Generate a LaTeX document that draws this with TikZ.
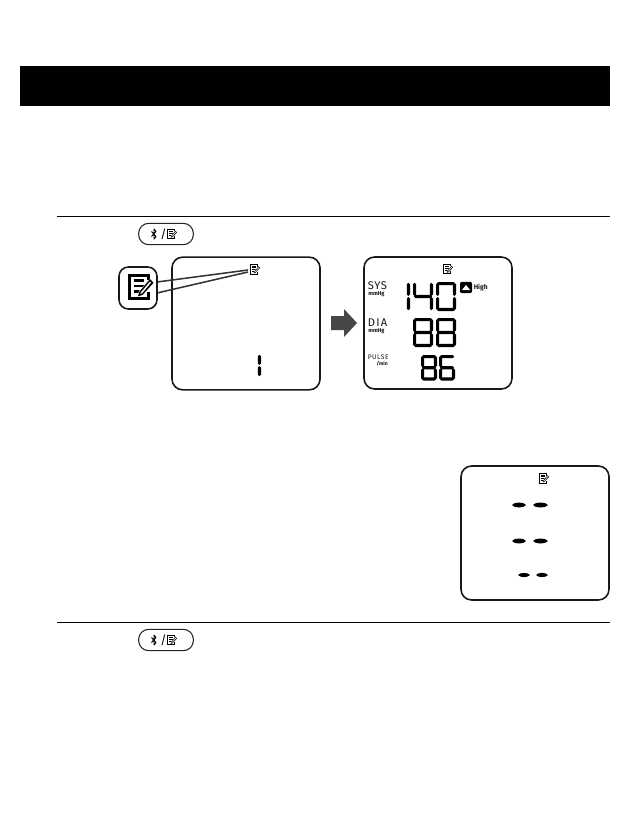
\documentclass[tikz,border=0pt]{standalone}
\usepackage{fontspec}
\usetikzlibrary{calc}
\setmainfont{Fira Sans}
\tikzset{
  x=0.75pt,y=-0.75pt,
  panel/.style={draw=black!90,line width=1.2pt,rounded corners=8pt,fill=white,inner sep=0pt},
  rulerline/.style={draw=black,line width=0.75pt},
  keycap/.style={draw=black!85,line width=0.8pt,fill=white,rounded corners=7.5pt,inner sep=0pt,minimum width=41pt,minimum height=16pt},
  callout/.style={draw=black!80,line width=1.15pt},
  lab/.style={inner sep=0pt,anchor=west,text=black!90},
}
\def\st{1.6}
\newcommand\hs[3]{\fill (#1,#3) -- ++(\st,-\st) -- (#2-\st,#3-\st) -- (#2,#3) -- (#2-\st,#3+\st) -- (#1+\st,#3+\st) -- cycle;}
\newcommand\vs[3]{\fill (#1,#2) -- ++(\st,\st) -- (#1+\st,#3-\st) -- (#1,#3) -- (#1-\st,#3-\st) -- (#1-\st,#2+\st) -- cycle;}
\newcommand\sga[2]{\hs{0.8}{#1-0.8}{\st}}
\newcommand\sgg[2]{\hs{0.8}{#1-0.8}{#2/2}}
\newcommand\sgd[2]{\hs{0.8}{#1-0.8}{#2-\st}}
\newcommand\sgf[2]{\vs{\st}{0.8}{#2/2-0.5}}
\newcommand\sge[2]{\vs{\st}{#2/2+0.5}{#2-0.8}}
\newcommand\sgb[2]{\vs{#1-\st}{0.8}{#2/2-0.5}}
\newcommand\sgc[2]{\vs{#1-\st}{#2/2+0.5}{#2-0.8}}
% x, y, width, height, segments
\newcommand\segdigit[5]{\begin{scope}[shift={(#1,#2)}]\foreach \sgname in {#5}{\csname sg\sgname\endcsname{#3}{#4}}\end{scope}}
% notepad icon: centre x, centre y, scale (1 = 24 px wide)
\newcommand\noteicon[3]{\begin{scope}[shift={(#1,#2)},scale=#3]
  \draw[line width=#3*1.9pt,fill=white] (7,-7) -- (7,-11) -- (-11,-11) -- (-11,11) -- (7,11) -- (7,5);
  \draw[line width=#3*1.9pt] (-7,-6) -- (3,-6) (-7,-1) -- (3,-1) (-7,4) -- (0,4);
  \fill[white] (-3,9) -- (-2,4) -- (9,-8) -- (13,-4) -- (2,8) -- cycle;
  \fill (-3,9) -- (-1.5,4.5) -- (8.5,-7.5) -- (12,-4) -- (1.5,7.5) -- cycle;
  \fill[white] (-0.8,6.6) -- (0,5) -- (8.5,-5.2) -- (9.5,-4.2) -- (1,6) -- cycle;
\end{scope}}
\newcommand\keylabel[2]{%
  \draw[line width=0.7pt,line join=round] (#1-5.5,#2-2.5) -- (#1-1,#2+2.5) -- (#1-3,#2+5) -- (#1-3,#2-5) -- (#1-1,#2-2.5) -- (#1-5.5,#2+2.5);
  \noteicon{#1+15}{#2}{0.42}
}
\begin{document}
\begin{tikzpicture}
\useasboundingbox (0,0) rectangle (630,824);
\fill[white] (0,0) rectangle (630,824);
% header bar
\node[fill=black,inner sep=0pt,minimum width=442.5pt,minimum height=30pt] (bar) at (315,86) {};
% rules
\coordinate (r1a) at (57,216); \coordinate (r1b) at (610,216);
\coordinate (r2a) at (57,622); \coordinate (r2b) at (610,622);
\draw[rulerline] (r1a) -- (r1b);
\draw[rulerline] (r2a) -- (r2b);
% keys
\node[keycap] (key1) at (166,234) {};
\keylabel{157}{234}
\node[inner sep=0pt,font=\fontsize{9}{9}\selectfont] (slash1) at (163.5,234) {/};
\node[keycap] (key2) at (166,640) {};
\keylabel{157}{640}
\node[inner sep=0pt,font=\fontsize{9}{9}\selectfont] (slash2) at (163.5,640) {/};
% first panel
\node[panel,minimum width=111pt,minimum height=99.5pt] (p1) at (246,323.5) {};
\coordinate (tip1) at (248,270);
\coordinate (tip2) at (248,272);
\draw[callout] (157,282) -- (tip1);
\draw[callout] (157,293) -- (tip2);
\node[panel,fill=white,rounded corners=7pt,minimum width=28.5pt,minimum height=31.5pt] (big) at (138,288) {};
\noteicon{141}{287}{1.05}
\noteicon{255}{269.5}{0.42}
\segdigit{255}{354}{6}{23}{b,c}
% arrow
\fill[black!72] (331,316) -- (344,316) -- (344,309) -- (357,323) -- (344,337) -- (344,330) -- (331,330) -- cycle;
% second panel
\node[panel,minimum width=111pt,minimum height=99pt] (p2) at (438,323) {};
\noteicon{448}{269}{0.42}
\segdigit{402}{282}{8}{29}{b,c}
\segdigit{413}{282}{20}{29}{f,g,b,c}
\segdigit{436}{282}{20}{29}{a,b,c,d,e,f}
\segdigit{413}{318}{20}{29}{a,b,c,d,e,f,g}
\segdigit{436}{318}{20}{29}{a,b,c,d,e,f,g}
\segdigit{421}{355}{16}{25.5}{a,b,c,d,e,f,g}
\segdigit{439}{355}{16}{25.5}{a,c,d,e,f,g}
\node[fill=black,rounded corners=1.5pt,inner sep=0pt,minimum width=9pt,minimum height=8.5pt] (hbox) at (466,287.5) {};
\fill[white] (462,290) -- (470,290) -- (466,285) -- cycle;
\node[lab,font=\fontsize{5}{5}\selectfont\bfseries] (high) at (473.5,288) {High};
\node[lab,font=\fontsize{8.4}{8.4}\selectfont\addfontfeatures{LetterSpace=6}] (sys) at (367.5,285.5) {SYS};
\node[lab,font=\fontsize{4.2}{4}\selectfont\bfseries] (mm1) at (368,294.5) {mmHg};
\node[lab,font=\fontsize{8.4}{8.4}\selectfont\addfontfeatures{LetterSpace=12}] (dia) at (367.5,323) {DIA};
\node[lab,font=\fontsize{4.2}{4}\selectfont\bfseries] (mm2) at (368,331.5) {mmHg};
\node[lab,font=\fontsize{5}{5}\selectfont\addfontfeatures{LetterSpace=8}] (pulse) at (367.5,357) {PULSE};
\node[lab,anchor=east,font=\fontsize{3.8}{4}\selectfont\bfseries] (min) at (388,363.5) {/min};
% third panel
\node[panel,minimum width=111pt,minimum height=100.5pt] (p3) at (535,533) {};
\noteicon{544}{478.5}{0.42}
\foreach \dy/\xa/\xb/\xc/\xd/\wd in {505/512/526/533/548/4,541/512/526/533/548/4,575/518/530/536/548/3.4}{
  \fill (\xa,\dy) .. controls (\xa+2,\dy-\wd/1.2) and (\xb-2,\dy-\wd/1.2) .. (\xb,\dy) .. controls (\xb-2,\dy+\wd/1.2) and (\xa+2,\dy+\wd/1.2) .. (\xa,\dy) -- cycle;
  \fill (\xc,\dy) .. controls (\xc+2,\dy-\wd/1.2) and (\xd-2,\dy-\wd/1.2) .. (\xd,\dy) .. controls (\xd-2,\dy+\wd/1.2) and (\xc+2,\dy+\wd/1.2) .. (\xc,\dy) -- cycle;
}
\end{tikzpicture}
\end{document}
